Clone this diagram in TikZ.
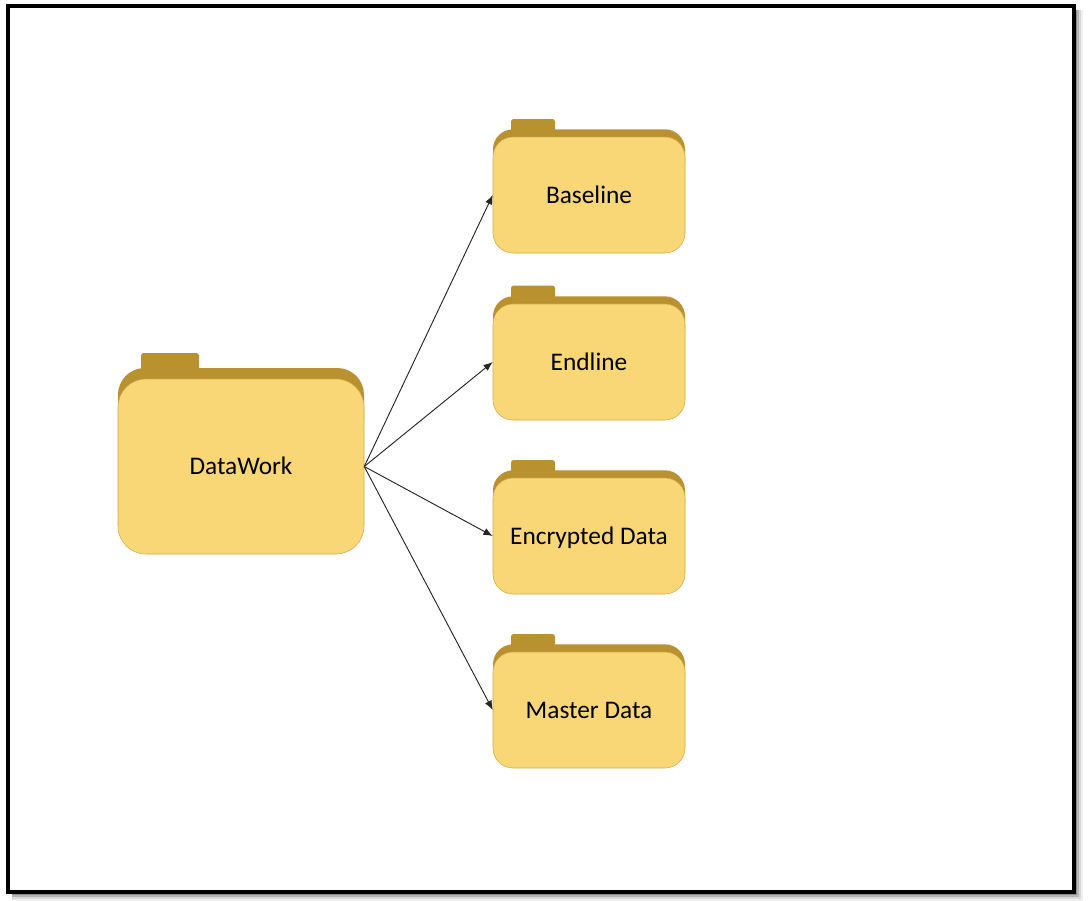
\documentclass[tikz,border=0pt]{standalone}
\usepackage{fontspec}
\setmainfont{Carlito}
\usetikzlibrary{arrows.meta}
\usetikzlibrary{positioning}
\definecolor{folderfront}{HTML}{FAD776}
\definecolor{folderback}{HTML}{B9922F}
\definecolor{folderline}{HTML}{CDAA4A}
\tikzset{
    front/.style={
        draw=folderline,
        fill=folderfront,
        rectangle,
        inner sep=0pt,
        text height=15pt,
        text depth=3pt,
        font=\fontsize{19}{21}\selectfont
    },
    bigfront/.style={front, minimum width=184.5pt, minimum height=131.25pt, rounded corners=21pt},
    smallfront/.style={front, minimum width=144pt, minimum height=87pt, rounded corners=15pt},
    back/.style={fill=folderback, rectangle, inner sep=0pt},
    bigback/.style={back, minimum width=184.5pt, minimum height=60pt, rounded corners=20pt},
    smallback/.style={back, minimum width=144pt, minimum height=40pt, rounded corners=15pt},
    bigtab/.style={back, minimum width=43.5pt, minimum height=16.5pt, rounded corners=2pt},
    smalltab/.style={back, minimum width=33pt, minimum height=12pt, rounded corners=2pt},
    link/.style={draw=black!85, line width=0.7pt, -{Latex[length=7pt, width=5.5pt]}}
}

\begin{document}
\begin{tikzpicture}[x=0.75pt, y=-0.75pt]
  \useasboundingbox (0,0) rectangle (1088,900);

  % Frame with its soft shadow
  \foreach \d/\o in {9/0.06, 7/0.10, 5/0.16, 3/0.22}
    \fill[black, opacity=\o] (12,10) rectangle (1074+\d,892+\d);
  \draw[line width=3pt, fill=white] (8,6) rectangle (1074,892);

  % Parent folder
  \node[bigtab] (tabwork) at (170,364) {};
  \node[bigback] (backwork) at (241,408) {};
  \node[bigfront] (datawork) at (241,466.5) {DataWork};

  % Baseline
  \node[smalltab] (tabbase) at (533,127) {};
  \node[smallback] (backbase) at (589,156) {};
  \node[smallfront] (baseline) at (589,195) {Baseline};

  % Endline
  \node[smalltab] (tabend) at (533,293.5) {};
  \node[smallback] (backend) at (589,323) {};
  \node[smallfront] (endline) at (589,362) {Endline};

  % Encrypted Data
  \node[smalltab] (tabenc) at (533,468) {};
  \node[smallback] (backenc) at (589,497) {};
  \node[smallfront] (encrypted) at (589,536) {Encrypted Data};

  % Master Data
  \node[smalltab] (tabmas) at (533,642) {};
  \node[smallback] (backmas) at (589,671) {};
  \node[smallfront] (master) at (589,710) {Master Data};

  % Connections
  \draw[link] (datawork.east) -- (baseline.west);
  \draw[link] (datawork.east) -- (endline.west);
  \draw[link] (datawork.east) -- (encrypted.west);
  \draw[link] (datawork.east) -- (master.west);
\end{tikzpicture}
\end{document}
